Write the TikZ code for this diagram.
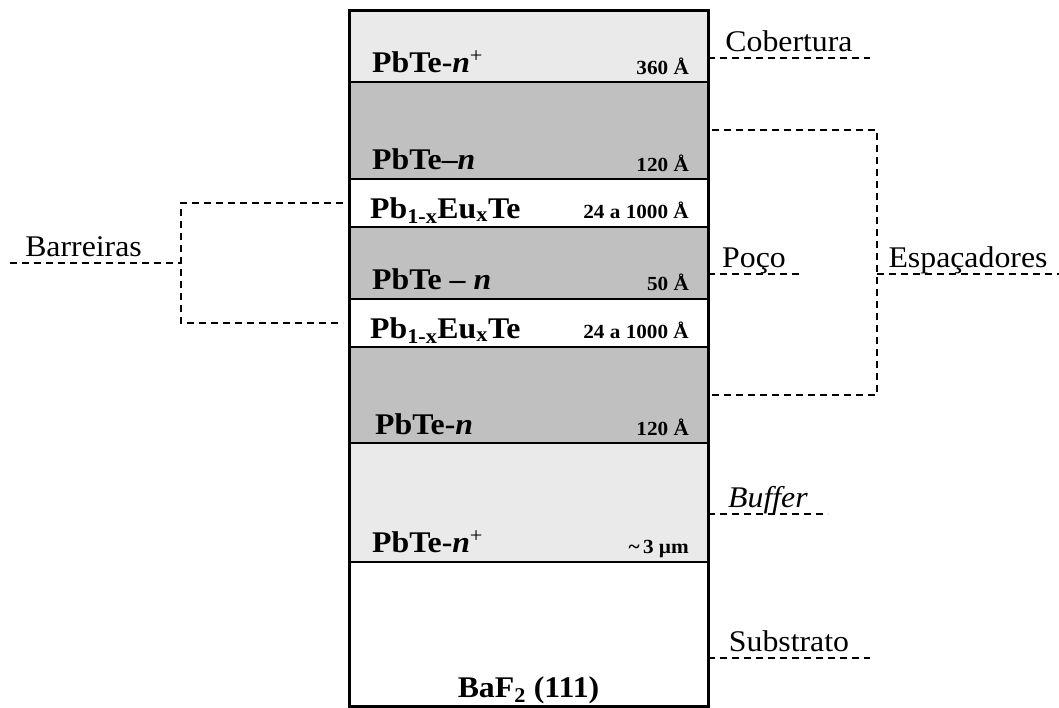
\documentclass[tikz,border=0pt]{standalone}
\usepackage{fontspec}
\setmainfont[FakeStretch=1.06]{Liberation Serif}
\usepackage{tikz}
\usetikzlibrary{positioning}
\definecolor{lightlayer}{HTML}{EAEAEA}
\definecolor{darklayer}{HTML}{C0C0C0}

\begin{document}
\begin{tikzpicture}[x=1pt, y=-1pt, node distance=0pt,
	layer/.style={draw, line width=2.5pt, minimum width=359pt, inner sep=0pt, outer sep=0pt},
	mat/.style={anchor=base west, inner sep=0pt, font=\fontsize{30}{32}\selectfont\bfseries},
	thk/.style={anchor=base east, inner sep=0pt, font=\fontsize{20}{22}\selectfont\bfseries},
	tag/.style={anchor=base, yshift=7pt, inner sep=0pt, font=\fontsize{30}{32}\selectfont},
	guide/.style={line width=1.5pt, dash pattern=on 7pt off 5pt}
	]
	\useasboundingbox (0,0) rectangle (1059,707);

	\node[layer, fill=lightlayer, minimum height=72pt] (cap) at (528.5,46) {};
	\node[layer, fill=darklayer, minimum height=97pt] (spc1) [below=of cap] {};
	\node[layer, fill=white, minimum height=48pt] (bar1) [below=of spc1] {};
	\node[layer, fill=darklayer, minimum height=72pt] (well) [below=of bar1] {};
	\node[layer, fill=white, minimum height=48pt] (bar2) [below=of well] {};
	\node[layer, fill=darklayer, minimum height=96pt] (spc2) [below=of bar2] {};
	\node[layer, fill=lightlayer, minimum height=119pt] (buf) [below=of spc2] {};
	\node[layer, fill=white, minimum height=144pt] (sub) [below=of buf] {};
	\draw[line width=3pt] (cap.north west) rectangle (sub.south east);

	\node[mat] (capname) at ([shift={(23pt,10pt)}]cap.south west) {PbTe-\textit{n}\textsuperscript{\normalfont +}};
	\node[thk] (capthk) at ([shift={(-19pt,8pt)}]cap.south east) {360 Å};
	\node[mat] (spc1name) at ([shift={(23pt,10pt)}]spc1.south west) {PbTe–\textit{n}};
	\node[thk] (spc1thk) at ([shift={(-19pt,8pt)}]spc1.south east) {120 Å};
	\node[mat] (bar1name) at ([shift={(21pt,9pt)}]bar1.south west) {Pb\textsubscript{1-x}Eu\textsubscript{x}Te};
	\node[thk] (bar1thk) at ([shift={(-19pt,9pt)}]bar1.south east) {24 a 1000 Å};
	\node[mat] (wellname) at ([shift={(23pt,10pt)}]well.south west) {PbTe – \textit{n}};
	\node[thk] (wellthk) at ([shift={(-19pt,9pt)}]well.south east) {50 Å};
	\node[mat] (bar2name) at ([shift={(21pt,9pt)}]bar2.south west) {Pb\textsubscript{1-x}Eu\textsubscript{x}Te};
	\node[thk] (bar2thk) at ([shift={(-19pt,9pt)}]bar2.south east) {24 a 1000 Å};
	\node[mat] (spc2name) at ([shift={(26pt,9pt)}]spc2.south west) {PbTe-\textit{n}};
	\node[thk] (spc2thk) at ([shift={(-19pt,8pt)}]spc2.south east) {120 Å};
	\node[mat] (bufname) at ([shift={(23pt,10pt)}]buf.south west) {PbTe-\textit{n}\textsuperscript{\normalfont +}};
	\node[thk] (bufthk) at ([shift={(-19pt,9pt)}]buf.south east) {\textasciitilde\,3 µm};
	\node[mat, anchor=base] (subname) at ([yshift=9pt]sub.south) {BaF\textsubscript{2} (111)};

	\coordinate (cobend) at (870,58);
	\coordinate (pocend) at (800,274);
	\coordinate (bufend) at (828,514);
	\coordinate (subend) at (870,658);
	\coordinate (spa) at (712,130);
	\coordinate (spb) at (877,130);
	\coordinate (spc) at (877,395);
	\coordinate (spd) at (712,395);
	\coordinate (spmid) at (877,274);
	\coordinate (spend) at (1059,274);
	\coordinate (bara) at (343,203);
	\coordinate (barb) at (181,203);
	\coordinate (barc) at (181,323);
	\coordinate (bard) at (343,323);
	\coordinate (barmid) at (181,263);
	\coordinate (barend) at (10,263);

	\draw[guide] (cobend -| cap.east) -- node[tag] (cobtag) {Cobertura} (cobend);
	\draw[guide] (pocend -| well.east) -- node[tag] (poctag) {Poço} (pocend);
	\draw[guide] (bufend -| buf.east) -- node[tag] (buftag) {\textit{Buffer}} (bufend);
	\draw[guide] (subend -| sub.east) -- node[tag] (subtag) {Substrato} (subend);
	\draw[guide] (spa) -- (spb) -- (spc) -- (spd);
	\draw[guide] (spmid) -- node[tag] (spctag) {Espaçadores} (spend);
	\draw[guide] (bara) -- (barb) -- (barc) -- (bard);
	\draw[guide] (barend) -- node[tag, pos=0.43] (bartag) {Barreiras} (barmid);
\end{tikzpicture}
\end{document}
